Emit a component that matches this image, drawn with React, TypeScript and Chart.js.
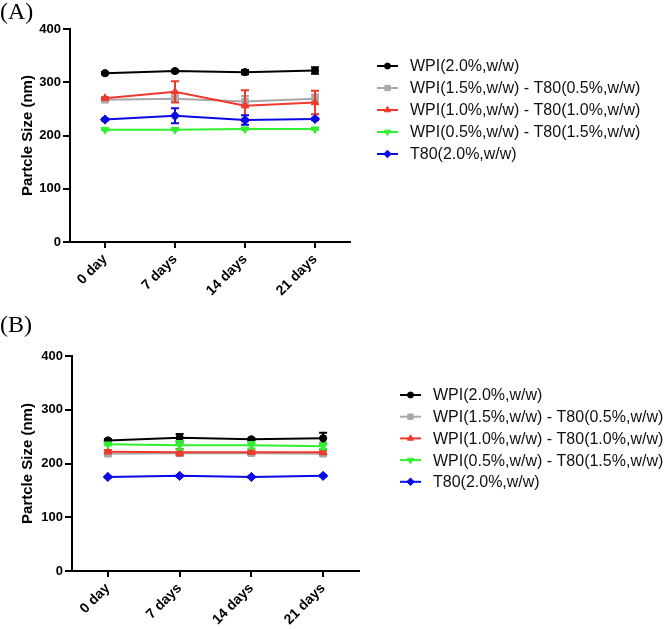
import React, { useEffect, useRef } from 'react';
import { Chart, registerables } from 'chart.js';
import { drawPoint } from 'chart.js/helpers';

Chart.register(...registerables);

// ---------- data ----------
const days = ['0 day', '7 days', '14 days', '21 days'];
const seriesNames = [
  'WPI(2.0%,w/w)',
  'WPI(1.5%,w/w) - T80(0.5%,w/w)',
  'WPI(1.0%,w/w) - T80(1.0%,w/w)',
  'WPI(0.5%,w/w) - T80(1.5%,w/w)',
  'T80(2.0%,w/w)',
];
const seriesColors = ['#000000', '#a8a8a8', '#f0392d', '#30f030', '#0a0ae6'];
const seriesPointStyles = ['circle', 'rect', 'triangle', 'triangle', 'rectRot'];
const seriesPointRotation = [0, 0, 0, 180, 0];
const seriesPointRadius = [3.6, 4.6, 4.4, 4.4, 4.6];
const yTitle = 'Partcle Size (nm)';
const yMin = 0;
const yMax = 400;
const yStep = 100;

// Panel (A)
const aWPI20 = [317, 321, 319, 322];
const aWPI20Err = [2, 2, 4, 6];
const aWPI15 = [267, 269, 264, 269];
const aWPI15Err = [3, 5, 10, 8];
const aWPI10 = [270, 282, 256, 262];
const aWPI10Err = [2, 20, 29, 22];
const aWPI05 = [211, 211, 212, 212];
const aWPI05Err = [1, 1, 1, 1];
const aT80 = [230, 237, 229, 231];
const aT80Err = [2, 14, 9, 2];

// Panel (B)
const bWPI20 = [243, 248, 245, 247];
const bWPI20Err = [2, 7, 2, 10];
const bWPI15 = [218, 219, 219, 218];
const bWPI15Err = [3, 3, 3, 3];
const bWPI10 = [222, 221, 221, 221];
const bWPI10Err = [3, 6, 3, 4];
const bWPI05 = [236, 234, 234, 232];
const bWPI05Err = [2, 8, 6, 5];
const bT80 = [175, 177, 175, 177];
const bT80Err = [1, 1, 1, 1];

const panelAValues = [aWPI20, aWPI15, aWPI10, aWPI05, aT80];
const panelAErrors = [aWPI20Err, aWPI15Err, aWPI10Err, aWPI05Err, aT80Err];
const panelBValues = [bWPI20, bWPI15, bWPI10, bWPI05, bT80];
const panelBErrors = [bWPI20Err, bWPI15Err, bWPI10Err, bWPI05Err, bT80Err];

const SANS = "'Liberation Sans', Arial, sans-serif";

type Layout = {
  width: number;
  height: number;
  padLeft: number;
  padTop: number;
  padRight: number;
  yAxisWidth: number;
  xAxisHeight: number;
  legendX: number;
  legendY: number;
  legendGap: number;
};

const errorBarPlugin = {
  id: 'errorBars',
  afterDatasetDraw(chart: any, args: any) {
    const ds: any = chart.data.datasets[args.index];
    const errs: number[] = ds.errors || [];
    const yScale = chart.scales.y;
    const ctx = chart.ctx;
    ctx.save();
    ctx.strokeStyle = ds.borderColor;
    ctx.lineWidth = 2;
    args.meta.data.forEach((pt: any, j: number) => {
      const v = ds.data[j];
      const e = errs[j] || 0;
      if (e <= 0) return;
      const yt = yScale.getPixelForValue(v + e);
      const yb = yScale.getPixelForValue(v - e);
      const cap = 4;
      ctx.beginPath();
      ctx.moveTo(pt.x, yt);
      ctx.lineTo(pt.x, yb);
      ctx.moveTo(pt.x - cap, yt);
      ctx.lineTo(pt.x + cap, yt);
      ctx.moveTo(pt.x - cap, yb);
      ctx.lineTo(pt.x + cap, yb);
      ctx.stroke();
    });
    ctx.restore();
  },
};

function makeLegendPlugin(layout: Layout) {
  return {
    id: 'customLegend',
    afterDraw(chart: any) {
      const ctx = chart.ctx;
      ctx.save();
      chart.data.datasets.forEach((ds: any, i: number) => {
        const y = layout.legendY + i * layout.legendGap;
        const x0 = layout.legendX;
        ctx.strokeStyle = ds.borderColor;
        ctx.fillStyle = ds.borderColor;
        ctx.lineWidth = 2;
        ctx.beginPath();
        ctx.moveTo(x0, y);
        ctx.lineTo(x0 + 21, y);
        ctx.stroke();
        ctx.lineWidth = 1;
        drawPoint(
          ctx,
          {
            pointStyle: ds.pointStyle,
            rotation: ds.pointRotation || 0,
            radius: Math.max(3, ds.pointRadius - 0.8),
            borderWidth: 1,
          } as any,
          x0 + 10.5,
          y
        );
        ctx.fillStyle = '#111';
        ctx.font = `16px ${SANS}`;
        ctx.textBaseline = 'middle';
        ctx.textAlign = 'left';
        ctx.fillText(seriesNames[i], x0 + 33, y + 1);
      });
      ctx.restore();
    },
  };
}

function Panel({ values, errors, layout }: { values: number[][]; errors: number[][]; layout: Layout }) {
  const ref = useRef<HTMLCanvasElement>(null);
  useEffect(() => {
    if (!ref.current) return;
    const datasets = values.map((vals, i) => ({
      label: seriesNames[i],
      data: vals,
      errors: errors[i],
      borderColor: seriesColors[i],
      backgroundColor: seriesColors[i],
      pointBackgroundColor: seriesColors[i],
      pointBorderColor: seriesColors[i],
      pointStyle: seriesPointStyles[i],
      pointRotation: seriesPointRotation[i],
      pointRadius: seriesPointRadius[i],
      pointBorderWidth: 1,
      borderWidth: 2,
      tension: 0,
      fill: false,
      order: values.length - 1 - i,
    }));
    const chart = new Chart(ref.current, {
      type: 'line',
      data: { labels: days, datasets: datasets as any },
      options: {
        animation: false,
        responsive: false,
        devicePixelRatio: 1,
        layout: {
          padding: { left: layout.padLeft, top: layout.padTop, right: layout.padRight, bottom: 0 },
        },
        plugins: { legend: { display: false }, tooltip: { enabled: false } },
        scales: {
          x: {
            type: 'category',
            offset: true,
            grid: { drawOnChartArea: false, drawTicks: true, tickLength: 6, color: '#000', lineWidth: 2, offset: false },
            border: { color: '#000', width: 2 },
            ticks: {
              color: '#000',
              font: { family: SANS, size: 14, weight: 'bold' },
              minRotation: 45,
              maxRotation: 45,
              padding: 3,
            },
            afterFit(scale: any) {
              scale.height = layout.xAxisHeight;
            },
          },
          y: {
            min: yMin,
            max: yMax,
            grid: { drawOnChartArea: false, drawTicks: true, tickLength: 7, color: '#000', lineWidth: 2 },
            border: { color: '#000', width: 2 },
            ticks: {
              stepSize: yStep,
              color: '#000',
              font: { family: SANS, size: 13, weight: 'bold' },
              padding: 2,
            },
            title: {
              display: true,
              text: yTitle,
              color: '#000',
              font: { family: SANS, size: 15, weight: 'bold' },
              padding: { top: 4, bottom: 4 },
            },
            afterFit(scale: any) {
              scale.width = layout.yAxisWidth;
            },
          },
        },
      } as any,
      plugins: [errorBarPlugin, makeLegendPlugin(layout)],
    });
    return () => chart.destroy();
  }, []);
  return <canvas ref={ref} width={layout.width} height={layout.height} style={{ display: 'block' }} />;
}

const layoutA: Layout = {
  width: 666,
  height: 320,
  padLeft: 15,
  padTop: 29,
  padRight: 316,
  yAxisWidth: 55,
  xAxisHeight: 78,
  legendX: 377,
  legendY: 66,
  legendGap: 22,
};

const layoutB: Layout = {
  width: 666,
  height: 309,
  padLeft: 15,
  padTop: 36,
  padRight: 307,
  yAxisWidth: 57,
  xAxisHeight: 58,
  legendX: 400,
  legendY: 75,
  legendGap: 21.7,
};

export default function App() {
  const titleStyle: React.CSSProperties = {
    position: 'absolute',
    left: 0,
    fontFamily: "'Liberation Serif', 'Times New Roman', serif",
    fontSize: 24,
    lineHeight: '24px',
    color: '#000',
  };
  return (
    <div style={{ position: 'absolute', left: 0, top: 0, width: 666, height: 629, background: '#fff', overflow: 'hidden' }}>
      <div style={{ position: 'absolute', left: 0, top: 0 }}>
        <Panel values={panelAValues} errors={panelAErrors} layout={layoutA} />
      </div>
      <div style={{ position: 'absolute', left: 0, top: 320 }}>
        <Panel values={panelBValues} errors={panelBErrors} layout={layoutB} />
      </div>
      <div style={{ ...titleStyle, top: -1 }}>(A)</div>
      <div style={{ ...titleStyle, top: 312 }}>(B)</div>
    </div>
  );
}
